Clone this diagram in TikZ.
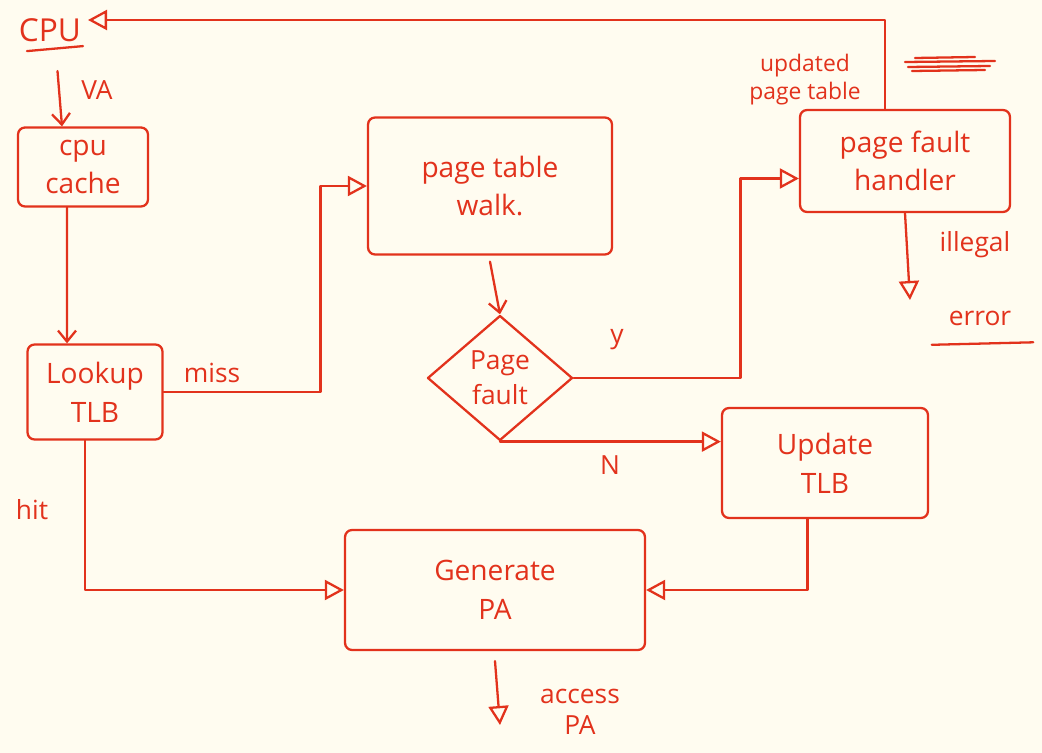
\documentclass[tikz,border=0pt]{standalone}
\usepackage{fontspec}
\setmainfont{Open Sans}
\usetikzlibrary{arrows.meta,shapes.geometric,positioning}

\definecolor{ink}{HTML}{E2321C}
\definecolor{paper}{HTML}{FFFCF0}

\tikzset{
  box/.style={draw, rounded corners=4pt, align=center, font=\fontsize{16}{22}\selectfont},
  dmd/.style={draw, diamond, aspect=1.2, align=center, inner sep=0pt,
    minimum width=2.9cm, minimum height=2.5cm, font=\fontsize{15}{20}\selectfont},
  lbl/.style={font=\fontsize{15}{18}\selectfont, align=center},
  barb/.style={-{Straight Barb[length=0.22cm,width=0.36cm]}},
  tri/.style={-{Triangle[open,length=0.38cm,width=0.4cm]}},
}

\begin{document}
\begin{tikzpicture}[x=0.02cm, y=-0.02cm, color=ink, line width=1.3pt, line cap=round, line join=round]
  \useasboundingbox (0,0) rectangle (1042,753);
  \fill[paper] (0,0) rectangle (1042,753);

  % boxes
  \node[font=\fontsize{18}{22}\selectfont] (cpu) at (50,30) {CPU};
  \node[box, minimum width=2.6cm, minimum height=1.58cm] (cache) at (83,167) {cpu\\cache};
  \node[box, minimum width=2.7cm, minimum height=1.9cm] (lookup) at (95,392) {Lookup\\TLB};
  \node[box, minimum width=4.88cm, minimum height=2.74cm] (walk) at (490,186) {page table\\walk.};
  \node[dmd] (fault) at (500,378) {Page\\fault};
  \node[box, minimum width=4.2cm, minimum height=2.04cm] (handler) at (905,161) {page fault\\handler};
  \node[box, minimum width=4.12cm, minimum height=2.2cm] (update) at (825,463) {Update\\TLB};
  \node[box, minimum width=6cm, minimum height=2.4cm] (gen) at (495,590) {Generate\\PA};

  % labels
  \node[lbl] (va) at (97,90) {VA};
  \node[lbl] (miss) at (212,373) {miss};
  \node[lbl] (hit) at (32,510) {hit};
  \node[lbl] (yes) at (617,340) {y};
  \node[lbl] (no) at (610,465) {N};
  \node[lbl] (illegal) at (975,245) {illegal};
  \node[lbl] (error) at (980,318) {error};
  \node[lbl, font=\fontsize{13}{16}\selectfont] (upd) at (805,80) {updated\\page table};
  \node[lbl] (access) at (580,712) {access\\PA};

  \coordinate (errtip) at (910,300);
  \coordinate (patip) at (500,725);

  % flow
  \draw[barb] ([xshift=0.15cm,yshift=-0.45cm]cpu.south) -- ([xshift=-0.42cm]cache.north);
  \draw[barb] ([xshift=-0.32cm]cache.south) -- ([xshift=-0.56cm]lookup.north);
  \draw[tri] (lookup.east) -- ++(157,0) |- (walk.west);
  \draw[barb] ([yshift=-0.12cm]walk.south) -- (fault.north);
  \draw[tri] (fault.east) -- ++(167,0) |- ([yshift=-0.35cm]handler.west);
  \draw[tri] (fault.south) -- (fault.south -| update.west);
  \draw[tri] ([xshift=-0.4cm]handler.north) |- ([yshift=0.2cm]cpu.east);
  \draw[tri] (handler.south) -- (errtip);
  \draw[tri] ([xshift=-0.2cm]lookup.south) |- (gen.west);
  \draw[tri] ([xshift=-0.35cm]update.south) |- (gen.east);
  \draw[tri] ([yshift=-0.2cm]gen.south) -- (patip);

  % underlines
  \draw ([xshift=0.3cm,yshift=-0.05cm]cpu.south west) -- ([xshift=-0.1cm,yshift=0.05cm]cpu.south east);
  \draw ([xshift=-0.2cm,yshift=-0.25cm]error.south west) -- ([xshift=0.3cm,yshift=-0.2cm]error.south east);

  % scratched word
  \draw (905,62) -- (995,61);
  \draw (908,67) -- (990,66);
  \draw (912,71) -- (985,70);
  \draw (915,58) -- (975,57);
\end{tikzpicture}
\end{document}
